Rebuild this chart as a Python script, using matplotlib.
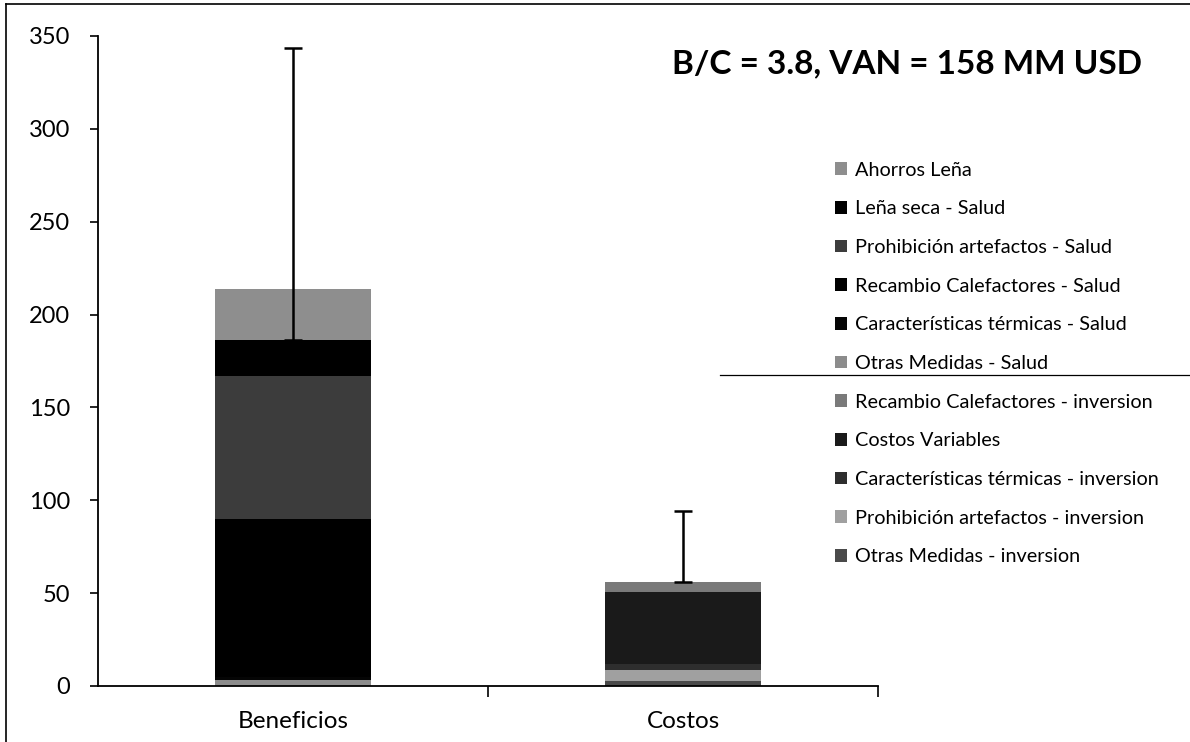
import matplotlib.pyplot as plt
from matplotlib.patches import Patch
from matplotlib.lines import Line2D
import numpy as np

plt.rcParams['font.family'] = ['Lato', 'DejaVu Sans']

categories = ['Beneficios', 'Costos']

# stacked bottom-up (legend shows the reverse)
series_names = [
    'Otras Medidas - inversion',
    'Prohibición artefactos - inversion',
    'Características térmicas - inversion',
    'Costos Variables',
    'Recambio Calefactores - inversion',
    'Otras Medidas - Salud',
    'Características térmicas - Salud',
    'Recambio Calefactores - Salud',
    'Prohibición artefactos - Salud',
    'Leña seca - Salud',
    'Ahorros Leña',
]
series_values = [
    [0.0, 2.5],
    [0.0, 6.0],
    [0.0, 3.5],
    [0.0, 38.5],
    [0.0, 5.3],
    [3.2, 0.0],
    [1.5, 0.0],
    [85.1, 0.0],
    [77.1, 0.0],
    [19.4, 0.0],
    [27.3, 0.0],
]
series_colors = [
    '#4a4a4a', '#a0a0a0', '#2e2e2e', '#1a1a1a', '#7a7a7a',
    '#8c8c8c', '#050505', '#000000', '#3c3c3c', '#000000', '#8e8e8e',
]

# error bars: base and upper end
err_base = [186.3, 55.8]
err_top = [343.4, 94.4]

fig = plt.figure(figsize=(11.9, 7.42), dpi=100)
ax = fig.add_axes([0.0824, 0.0755, 0.6556, 0.876])

x = np.arange(len(categories))
bottom = np.zeros(len(categories))
for name, vals, col in zip(series_names, series_values, series_colors):
    vals = np.array(vals)
    ax.bar(x, vals, 0.4, bottom=bottom, color=col, label=name, zorder=2)
    bottom += vals

base = np.array(err_base)
up = np.array(err_top) - base
ax.errorbar(x, base, yerr=[np.zeros_like(up), up], fmt='none', ecolor='black',
            elinewidth=1.8, capsize=6.5, capthick=1.8, zorder=3)

ax.set_xlim(-0.5, 1.5)
ax.set_ylim(0, 350)
ax.set_yticks(range(0, 351, 50))
ax.set_xticks([0, 1])
ax.set_xticklabels(categories, fontsize=17.5)
ax.tick_params(axis='y', labelsize=17, direction='out', length=6, width=1.2, pad=14)
ax.tick_params(axis='x', length=0, pad=18)
# category separators like Excel
ax.set_xticks([0.5, 1.5], minor=True)
ax.tick_params(axis='x', which='minor', direction='out', length=8, width=1.2)
ax.spines['top'].set_visible(False)
ax.spines['right'].set_visible(False)
ax.spines['left'].set_linewidth(1.3)
ax.spines['bottom'].set_linewidth(1.3)

fig.text(0.762, 0.914, 'B/C = 3.8, VAN = 158 MM USD', fontsize=24, fontweight='bold',
         ha='center', va='center')

handles = [Patch(facecolor=c, edgecolor='none') for c in series_colors][::-1]
labels = series_names[::-1]
fig.legend(handles, labels, loc='upper left', bbox_to_anchor=(0.697, 0.79),
           frameon=False, fontsize=14.3, handlelength=0.6, handleheight=0.6,
           handletextpad=0.4, labelspacing=1.09, borderaxespad=0, borderpad=0.3)

# scan frame lines
fig.add_artist(Line2D([0.005, 0.005], [0.0, 0.995], color='black', lw=1.2))
fig.add_artist(Line2D([0.005, 1.0], [0.995, 0.995], color='black', lw=1.2))
fig.add_artist(Line2D([0.605, 1.0], [0.4946, 0.4946], color='black', lw=0.9))

fig.savefig('out.png', dpi=100)
